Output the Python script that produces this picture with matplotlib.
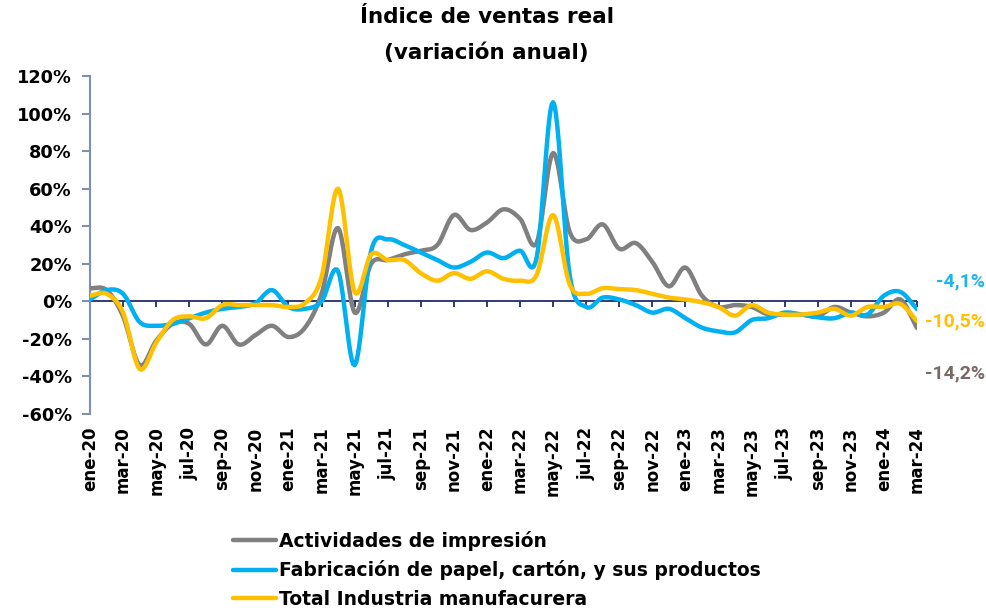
import numpy as np
import matplotlib
matplotlib.use("Agg")
import matplotlib.pyplot as plt
from matplotlib.ticker import FuncFormatter

months_es = ["ene", "feb", "mar", "abr", "may", "jun", "jul", "ago", "sep", "oct", "nov", "dic"]
dates = [f"{months_es[m]}-{y:02d}" for y in range(20, 25) for m in range(12)][:51]

impresion = [7, 6, -8, -34, -21, -12, -12, -23, -13, -23, -18, -13, -19, -14, 4, 39, -6, 20,
             22, 25, 27, 30, 46, 38, 42, 49, 44, 31, 79, 37, 33, 41, 28, 31, 21, 8, 18, 3,
             -3, -2, -3, -7, -7, -7, -8, -3, -6, -8, -6, 1, -14.2]
papel = [1, 6, 4, -11, -13, -12, -9, -6, -4, -3, -1, 6, -3, -4, 0, 16, -34, 27,
         33, 30, 26, 22, 18, 21, 26, 23, 27, 23, 106, 14, -3, 2, 1, -2, -6, -4, -9, -14,
         -16, -16.5, -10, -9, -6, -7, -8.5, -9, -6, -7, 3, 5, -4.1]
total = [3, 4, -6, -36, -22, -10, -8, -9, -2, -2, -2, -2, -3, -1, 13, 60, 5, 25,
         22, 22, 15, 11, 15, 12, 16, 12, 11, 14, 46, 9, 4, 7, 6.5, 6, 4, 2, 1, -0.5,
         -3, -7.6, -2, -6, -7, -7, -6, -4, -7.6, -3, -3, -1.4, -10.5]

series_names = ["Actividades de impresión",
                "Fabricación de papel, cartón, y sus productos",
                "Total Industria manufacurera"]
series_colors = ["#808080", "#00B0F0", "#FFC000"]
end_labels = ["-14,2%", "-4,1%", "-10,5%"]
end_label_colors = ["#7A6A66", "#1FB4EC", "#FFC000"]


def smooth(y, n=12):
    """Catmull-Rom style smoothing for drawing (like Excel smoothed lines)."""
    y = np.asarray(y, dtype=float)
    x = np.arange(len(y), dtype=float)
    p = np.concatenate([[2 * y[0] - y[1]], y, [2 * y[-1] - y[-2]]])
    xs, ys = [], []
    for i in range(len(y) - 1):
        p0, p1, p2, p3 = p[i], p[i + 1], p[i + 2], p[i + 3]
        t = np.linspace(0, 1, n, endpoint=False)
        yy = 0.5 * ((2 * p1) + (-p0 + p2) * t + (2 * p0 - 5 * p1 + 4 * p2 - p3) * t ** 2
                    + (-p0 + 3 * p1 - 3 * p2 + p3) * t ** 3)
        xs.append(x[i] + t)
        ys.append(yy)
    xs.append([x[-1]])
    ys.append([y[-1]])
    return np.concatenate(xs), np.concatenate(ys)


plt.rcParams['font.family'] = ['DejaVu Sans']
fig = plt.figure(figsize=(9.87, 6.11), dpi=100)
ax = fig.add_axes([90 / 987, 1 - 414 / 611, 827 / 987, 338 / 611])

data = [impresion, papel, total]
for vals, name, col in zip(data, series_names, series_colors):
    xs, ys = smooth(vals)
    ax.plot(xs, ys, color=col, lw=3.2, label=name, solid_capstyle='round', zorder=3)

ax.axhline(0, color="#1F2D6B", lw=1.3, zorder=2)

ax.set_xlim(0, 50)
ax.set_ylim(-60, 120)
ax.set_yticks(np.arange(-60, 121, 20))
ax.yaxis.set_major_formatter(FuncFormatter(lambda v, p: f"{int(v)}%"))
for s in ["top", "right", "bottom"]:
    ax.spines[s].set_visible(False)
ax.spines["left"].set_color("#7F8FAF")
ax.spines["left"].set_linewidth(1.5)
ax.tick_params(axis="y", direction="out", length=6, width=1.5, color="#7F8FAF",
               labelsize=12.8, pad=7)
for lab in ax.get_yticklabels():
    lab.set_fontweight("bold")

tick_pos = list(range(0, 51, 2))
ax.set_xticks(tick_pos)
ax.set_xticklabels([dates[i] for i in tick_pos], rotation=90, fontsize=12,
                   fontweight="bold")
ax.tick_params(axis="x", length=0, pad=9)

sec = ax.secondary_xaxis(1 / 3)
sec.set_xticks(tick_pos)
sec.tick_params(axis="x", direction="out", length=4, width=1.3, color="#1F2D6B",
                labelbottom=False, labeltop=False)
sec.spines["bottom"].set_visible(False)
sec.spines["top"].set_visible(False)

# end labels
lab_font = dict(fontsize=14, fontweight="bold", family="Roboto", va="center", ha="right")
ax.annotate(end_labels[1], xy=(1.0, papel[-1]), xycoords=("figure fraction", "data"),
            xytext=(-1, 20), textcoords="offset points", color=end_label_colors[1], **lab_font)
ax.annotate(end_labels[2], xy=(1.0, total[-1]), xycoords=("figure fraction", "data"),
            xytext=(-1, 0), textcoords="offset points", color=end_label_colors[2],
            zorder=2, **lab_font)
ax.annotate(end_labels[0], xy=(1.0, impresion[-1]), xycoords=("figure fraction", "data"),
            xytext=(-1, -33), textcoords="offset points", color=end_label_colors[0], **lab_font)

fig.text(0.493, 0.988, "Índice de ventas real\n(variación anual)", ha="center", va="top",
         fontsize=15.5, fontweight="bold", linespacing=1.9)

leg = fig.legend(loc="upper left", bbox_to_anchor=(233 / 987, 1 - 531 / 611), frameon=False,
                 handlelength=2.3, handletextpad=0.15, labelspacing=0.5,
                 prop={"weight": "bold", "size": 13.5}, borderaxespad=0, borderpad=0)

fig.savefig("out.png", dpi=100)
